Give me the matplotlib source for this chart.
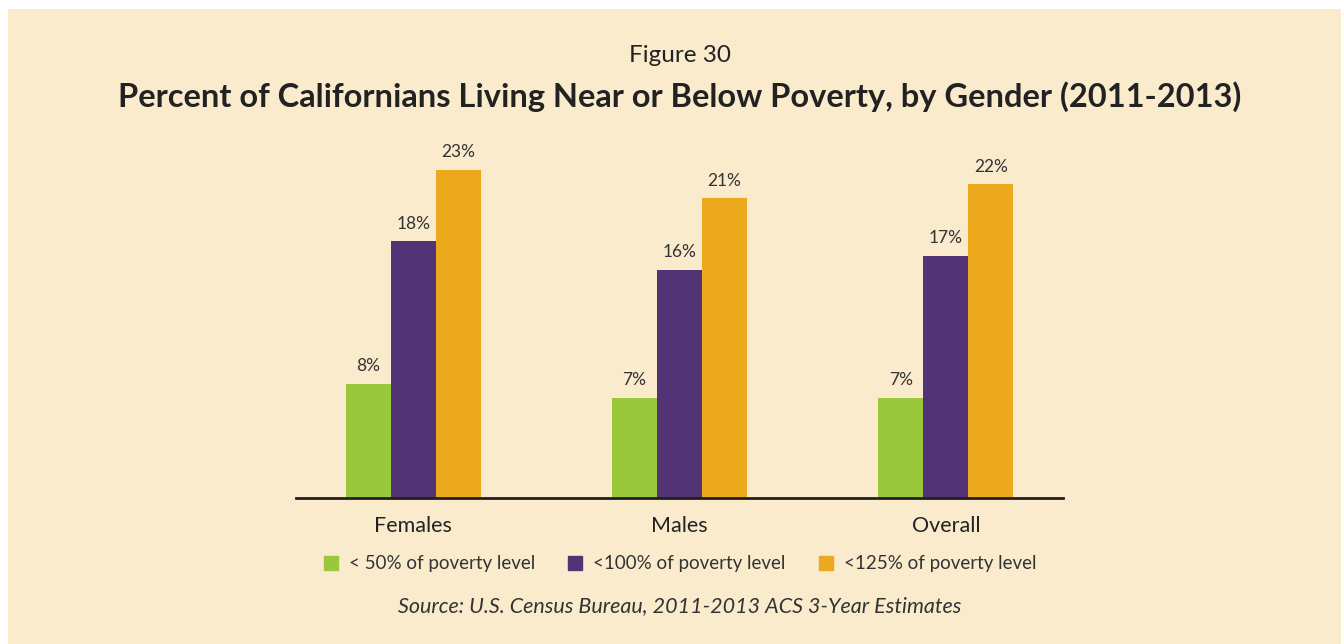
import matplotlib.pyplot as plt
import numpy as np
from matplotlib.patches import Rectangle, Patch

# data
groups = ['Females', 'Males', 'Overall']
series = ['< 50% of poverty level', '<100% of poverty level', '<125% of poverty level']
below_50 = [8, 7, 7]
below_100 = [18, 16, 17]
below_125 = [23, 21, 22]
colors = ['#99c83d', '#523476', '#eda91e']

bg = '#faebcd'
txt = '#333333'
plt.rcParams['font.family'] = ['Lato', 'DejaVu Sans']

fig = plt.figure(figsize=(13.41, 6.44), dpi=100)
fig.patch.set_facecolor('white')
# beige panel, thin white margin on top and left
fig.patches.append(Rectangle((8 / 1341, 0), 1, 1 - 9 / 644, transform=fig.transFigure,
                             facecolor=bg, edgecolor='none', zorder=-10))

ax = fig.add_axes([296 / 1341, 146 / 644, 767 / 1341, 348 / 644])
ax.set_facecolor('none')

x = np.arange(len(groups))
w = 0.169
for i, (vals, c) in enumerate(zip([below_50, below_100, below_125], colors)):
    bars = ax.bar(x + (i - 1) * w, vals, width=w, color=c, label=series[i])
    for b, v in zip(bars, vals):
        ax.annotate(f'{v}%', (b.get_x() + b.get_width() / 2, v), xytext=(0, 7),
                    textcoords='offset points', ha='center', va='bottom',
                    fontsize=12.5, color=txt)

ax.set_xlim(-0.44, 2.44)
ax.set_ylim(0, 24.4)
ax.set_yticks([])
ax.set_xticks(x)
ax.set_xticklabels(groups, fontsize=15.5, color='#222222')
ax.tick_params(axis='x', length=0, pad=13)
for s in ['top', 'left', 'right']:
    ax.spines[s].set_visible(False)
ax.spines['bottom'].set_linewidth(2)
ax.spines['bottom'].set_color('#231f20')

fig.text(680 / 1341, 1 - 55 / 644, 'Figure 30', ha='center', va='center',
         fontsize=17.5, color='#222222')
fig.text(680 / 1341, 1 - 97 / 644,
         'Percent of Californians Living Near or Below Poverty, by Gender (2011-2013)',
         ha='center', va='center', fontsize=23.5, fontweight='bold', color='#222222')

handles = [Patch(color=c, label=s) for c, s in zip(colors, series)]
fig.legend(handles=handles, loc='center', bbox_to_anchor=(680 / 1341, 1 - 564 / 644),
           ncol=3, frameon=False, fontsize=13.5, handlelength=0.75, handleheight=0.75,
           handletextpad=0.6, columnspacing=1.75, labelcolor=txt)

fig.text(680 / 1341, 1 - 606 / 644, 'Source: U.S. Census Bureau, 2011-2013 ACS 3-Year Estimates',
         ha='center', va='center', fontsize=15.5, style='italic', color=txt)

plt.savefig('out.png', dpi=100, facecolor=fig.get_facecolor())
